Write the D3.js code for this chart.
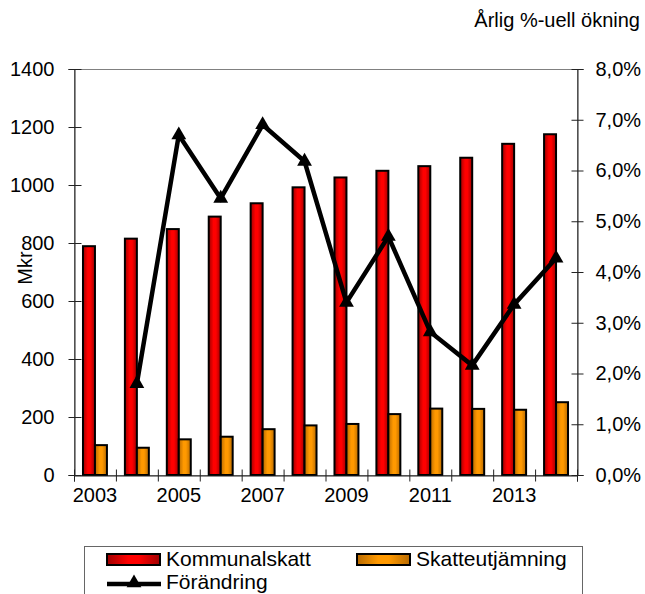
<!DOCTYPE html>
<html>
<head>
<meta charset="utf-8">
<script src="https://cdn.jsdelivr.net/npm/d3@7"></script>
<style>
  body { margin: 0; background: #fff; }
  text { font-family: "Liberation Sans", Arial, sans-serif; fill: #000; }
</style>
</head>
<body>
<svg id="chart" width="645" height="594"></svg>
<script>
"use strict";

// Data
const years = [2003, 2004, 2005, 2006, 2007, 2008, 2009, 2010, 2011, 2012, 2013, 2014];
const kommunalskatt = [789, 815, 848, 891, 937, 992, 1026, 1049, 1065, 1094, 1142, 1175];
const skatteutjamning = [103, 94, 123, 132, 158, 171, 176, 210, 229, 228, 225, 251];
const forandring = [null, 1.8, 6.7, 5.45, 6.9, 6.18, 3.4, 4.7, 2.82, 2.16, 3.36, 4.27];
const leftTicks = [0, 200, 400, 600, 800, 1000, 1200, 1400];
const rightTicks = [0, 1, 2, 3, 4, 5, 6, 7, 8];
const xLabels = [2003, 2005, 2007, 2009, 2011, 2013];

var graph = {};
graph.svg = d3.select("#chart");
graph.margins = { top: 69, right: 68, bottom: 119, left: 74 };
graph.width = 645;
graph.height = 594;

var plane = {};
plane.left = graph.margins.left;
plane.right = graph.width - graph.margins.right;
plane.top = graph.margins.top;
plane.bottom = graph.height - graph.margins.bottom;

// gradients (Excel style, dark edges)
var defs = graph.svg.append("defs");
function addGradient(id, edge, mid) {
  var g = defs.append("linearGradient")
    .attr("id", id)
    .attr("x1", "0%").attr("x2", "100%")
    .attr("y1", "0%").attr("y2", "0%");
  g.append("stop").attr("offset", "0%").attr("stop-color", edge);
  g.append("stop").attr("offset", "40%").attr("stop-color", mid);
  g.append("stop").attr("offset", "60%").attr("stop-color", mid);
  g.append("stop").attr("offset", "100%").attr("stop-color", edge);
}
addGradient("gradRed", "#a00000", "#ff0000");
addGradient("gradOrange", "#b86a00", "#ff9900");

// scales
plane.x = d3.scaleBand()
  .domain(years)
  .range([plane.left, plane.right])
  .padding(0);

plane.xb = d3.scaleLinear()
  .domain([0, years.length])
  .range([plane.left, plane.right]);

plane.y = d3.scaleLinear()
  .domain([0, 1400])
  .range([plane.bottom, plane.top]);

plane.y2 = d3.scaleLinear()
  .domain([0, 8])
  .range([plane.bottom, plane.top]);

var barW = plane.x.bandwidth() / 3.5;

// plot area border
graph.svg.append("rect")
  .attr("x", plane.left + 0.5)
  .attr("y", plane.top + 0.5)
  .attr("width", plane.right - plane.left)
  .attr("height", plane.bottom - plane.top)
  .attr("fill", "none")
  .attr("stroke", "#808080")
  .attr("stroke-width", 1);

// bars
var bars = graph.svg.append("g").attr("class", "bars");

bars.selectAll("rect.kom")
  .data(years)
  .enter()
  .append("rect")
  .attr("class", "kom")
  .attr("x", (d) => plane.x(d) + plane.x.bandwidth() / 2 - barW)
  .attr("y", (d, i) => plane.y(kommunalskatt[i]))
  .attr("width", barW)
  .attr("height", (d, i) => plane.y(0) - plane.y(kommunalskatt[i]))
  .attr("fill", "url(#gradRed)")
  .attr("stroke", "#000")
  .attr("stroke-width", 2);

bars.selectAll("rect.ska")
  .data(years)
  .enter()
  .append("rect")
  .attr("class", "ska")
  .attr("x", (d) => plane.x(d) + plane.x.bandwidth() / 2)
  .attr("y", (d, i) => plane.y(skatteutjamning[i]))
  .attr("width", barW)
  .attr("height", (d, i) => plane.y(0) - plane.y(skatteutjamning[i]))
  .attr("fill", "url(#gradOrange)")
  .attr("stroke", "#000")
  .attr("stroke-width", 2);

// axes
plane.yAxis = d3.axisLeft(plane.y)
  .tickValues(leftTicks)
  .tickSize(6)
  .tickPadding(14)
  .tickFormat(d3.format("d"));
plane.gY = graph.svg.append("g")
  .attr("transform", "translate(" + (plane.left + 0.5) + ",0)")
  .call(plane.yAxis);
plane.gY.selectAll(".tick line").attr("x1", 7);

plane.y2Axis = d3.axisRight(plane.y2)
  .tickValues(rightTicks)
  .tickSize(6)
  .tickPadding(12)
  .tickFormat((d) => d3.format(".1f")(d).replace(".", ",") + "%");
plane.gY2 = graph.svg.append("g")
  .attr("transform", "translate(" + (plane.right + 0.5) + ",0)")
  .call(plane.y2Axis);
plane.gY2.selectAll(".tick line").attr("x1", -6);

plane.xAxis = d3.axisBottom(plane.xb)
  .tickValues(d3.range(years.length + 1))
  .tickSize(6)
  .tickFormat("");
plane.gX = graph.svg.append("g")
  .attr("transform", "translate(0," + (plane.bottom + 0.5) + ")")
  .call(plane.xAxis);
plane.gX.selectAll(".tick line").attr("y1", -6);

plane.xLabelAxis = d3.axisBottom(plane.x)
  .tickValues(xLabels)
  .tickSize(0)
  .tickPadding(13);
plane.gXL = graph.svg.append("g")
  .attr("transform", "translate(0," + plane.bottom + ")")
  .call(plane.xLabelAxis);
plane.gXL.select(".domain").remove();

graph.svg.selectAll(".domain").attr("stroke", "#222");
graph.svg.selectAll(".tick line").attr("stroke", "#222");
graph.svg.selectAll(".tick text")
  .attr("font-size", 20)
  .attr("font-family", "Liberation Sans, Arial, sans-serif")
  .attr("fill", "#000");

// line with triangle markers
var pts = years.map((d, i) => ({ year: d, v: forandring[i] })).filter((d) => d.v !== null);

var line = d3.line()
  .x((d) => plane.x(d.year) + plane.x.bandwidth() / 2)
  .y((d) => plane.y2(d.v));

graph.svg.append("path")
  .datum(pts)
  .attr("d", line)
  .attr("fill", "none")
  .attr("stroke", "#000")
  .attr("stroke-width", 4.5)
  .attr("stroke-linejoin", "miter");

var tri = d3.symbol().type(d3.symbolTriangle).size(95);
graph.svg.append("g")
  .selectAll("path")
  .data(pts)
  .enter()
  .append("path")
  .attr("d", tri)
  .attr("transform", (d) => "translate(" + (plane.x(d.year) + plane.x.bandwidth() / 2) + "," + plane.y2(d.v) + ")")
  .attr("fill", "#000");

// axis titles
graph.svg.append("text")
  .attr("transform", "translate(32,268) rotate(-90)")
  .attr("text-anchor", "middle")
  .attr("font-size", 20)
  .text("Mkr");

graph.svg.append("text")
  .attr("x", 640)
  .attr("y", 27)
  .attr("text-anchor", "end")
  .attr("font-size", 20)
  .text("Årlig %-uell ökning");

// legend
var legend = graph.svg.append("g").attr("class", "legend");
legend.append("rect")
  .attr("x", 84.5)
  .attr("y", 546.5)
  .attr("width", 498)
  .attr("height", 80)
  .attr("fill", "#fff")
  .attr("stroke", "#666");

var legendItems = [
  { label: "Kommunalskatt", fill: "url(#gradRed)", x: 107, y: 554 },
  { label: "Skatteutjämning", fill: "url(#gradOrange)", x: 357, y: 554 }
];
legendItems.forEach(function(it) {
  legend.append("rect")
    .attr("x", it.x)
    .attr("y", it.y)
    .attr("width", 53)
    .attr("height", 11)
    .attr("fill", it.fill)
    .attr("stroke", "#000")
    .attr("stroke-width", 2);
  legend.append("text")
    .attr("x", it.x + 59)
    .attr("y", it.y + 12)
    .attr("font-size", 21)
    .text(it.label);
});

legend.append("line")
  .attr("x1", 107).attr("x2", 161)
  .attr("y1", 584).attr("y2", 584)
  .attr("stroke", "#000")
  .attr("stroke-width", 4.5);
legend.append("path")
  .attr("d", tri)
  .attr("transform", "translate(134,583)")
  .attr("fill", "#000");
legend.append("text")
  .attr("x", 166)
  .attr("y", 589)
  .attr("font-size", 21)
  .text("Förändring");
</script>
</body>
</html>
